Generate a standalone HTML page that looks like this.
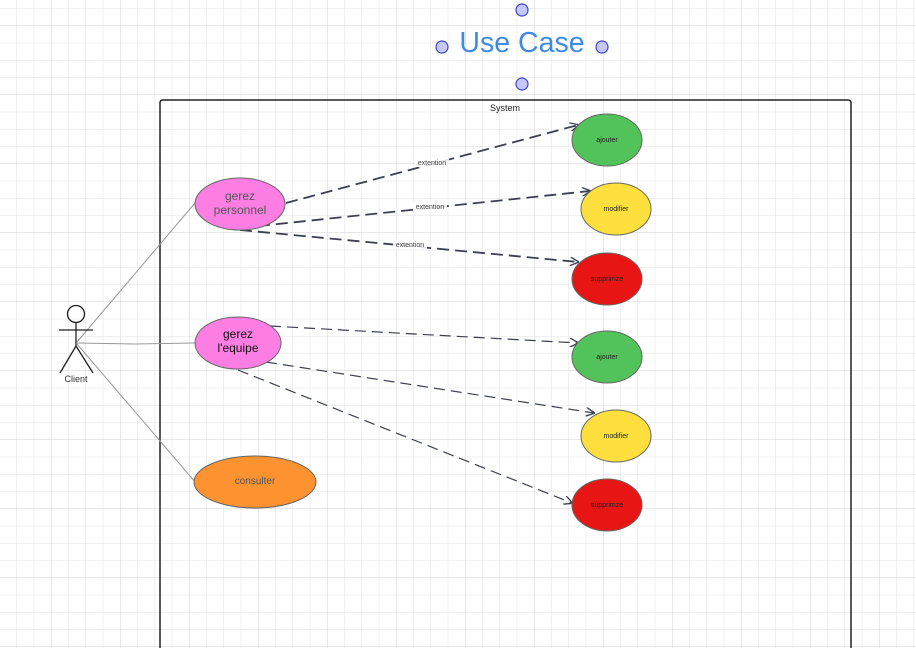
<!DOCTYPE html>
<html><head><meta charset="utf-8"><style>
html,body{margin:0;padding:0;background:#fff;width:916px;height:648px;overflow:hidden}
svg{display:block;font-family:"Liberation Sans",sans-serif}
</style></head><body>
<svg width="916" height="648" viewBox="0 0 916 648" xmlns="http://www.w3.org/2000/svg">
<defs>
<pattern id="minor" x="-0.25" y="-8.5" width="17.25" height="17.25" patternUnits="userSpaceOnUse">
<path d="M17.25 0V17.25M0 17.25H17.25" stroke="#e2e2e2" stroke-width="1" fill="none"/>
</pattern>
<pattern id="major" x="-17.5" y="-43" width="69" height="69" patternUnits="userSpaceOnUse">
<path d="M69 0V69M0 69H69" stroke="#d2d2d2" stroke-width="1" fill="none"/>
</pattern>
<marker id="ar" viewBox="0 0 10 10" refX="9" refY="5" markerWidth="9" markerHeight="9" orient="auto" markerUnits="userSpaceOnUse">
<path d="M0 0L10 5L0 10" fill="none" stroke="#3a4050" stroke-width="1.5"/>
</marker>
</defs>
<rect width="916" height="648" fill="url(#minor)"/>
<rect width="916" height="648" fill="url(#major)"/>

<text x="522" y="52" font-size="28.5" fill="#3d8be6" text-anchor="middle">Use Case</text>
<g fill="#c5c8f5" stroke="#3e46c9" stroke-width="1.2">
<circle cx="522" cy="10" r="6"/><circle cx="522" cy="84" r="6"/>
<circle cx="442" cy="47" r="6"/><circle cx="602" cy="47" r="6"/>
</g>

<path d="M160 648V103Q160 100 163 100H848Q851 100 851 103V648" fill="none" stroke="#222" stroke-width="1.5"/>
<text x="505" y="111" font-size="9" fill="#222" text-anchor="middle">System</text>

<g stroke="#999" stroke-width="1" fill="none">
<line x1="77" y1="342" x2="195" y2="203"/>
<path d="M77 343L135 344L195 343"/>
<line x1="77" y1="344" x2="196" y2="483"/>
</g>
<g stroke="#222" stroke-width="1.3" fill="none">
<circle cx="76" cy="314" r="8.5"/>
<line x1="76" y1="323" x2="76" y2="346"/>
<line x1="59" y1="330" x2="93" y2="330"/>
<line x1="76" y1="346" x2="60" y2="373"/>
<line x1="76" y1="346" x2="93" y2="373"/>
</g>
<text x="76" y="382" font-size="9" fill="#333" text-anchor="middle">Client</text>

<g stroke="#3a4050" stroke-width="1.8" stroke-dasharray="12,6" fill="none" marker-end="url(#ar)">
<line x1="286" y1="203" x2="578" y2="125"/>
<line x1="240" y1="228" x2="590" y2="191"/>
<line x1="240" y1="230" x2="578" y2="262"/>
</g>
<g stroke="#3a4050" stroke-width="1.2" stroke-dasharray="11,6" fill="none" marker-end="url(#ar)">
<line x1="270" y1="326" x2="578" y2="343"/>
<line x1="266" y1="362" x2="594" y2="413"/>
<line x1="238" y1="370" x2="572" y2="503"/>
</g>
<g font-size="7" fill="#444" text-anchor="middle">
<rect x="415" y="158" width="34" height="9" fill="#fff" opacity="0.85"/>
<text x="432" y="165">extention</text>
<rect x="413" y="202" width="34" height="9" fill="#fff" opacity="0.85"/>
<text x="430" y="209">extention</text>
<rect x="393" y="240" width="34" height="9" fill="#fff" opacity="0.85"/>
<text x="410" y="247">extention</text>
</g>

<g stroke="#666" stroke-width="1">
<ellipse cx="240" cy="204" rx="45" ry="26" fill="#fd7ee2"/>
<ellipse cx="238" cy="343" rx="43" ry="26" fill="#fd7ee2"/>
<ellipse cx="255" cy="482" rx="61" ry="26" fill="#fc9330"/>
<ellipse cx="607" cy="140" rx="35" ry="26" fill="#52c35a"/>
<ellipse cx="616" cy="209" rx="35" ry="26" fill="#fde03d"/>
<ellipse cx="607" cy="279" rx="35" ry="26" fill="#e81515"/>
<ellipse cx="607" cy="357" rx="35" ry="26" fill="#52c35a"/>
<ellipse cx="616" cy="436" rx="35" ry="26" fill="#fde03d"/>
<ellipse cx="607" cy="505" rx="35" ry="26" fill="#e81515"/>
</g>
<g text-anchor="middle">
<text x="240" y="200" font-size="12" fill="#555">gerez</text>
<text x="240" y="214" font-size="12" fill="#555">personnel</text>
<text x="238" y="338" font-size="12" fill="#111">gerez</text>
<text x="238" y="352" font-size="12" fill="#111">l'equipe</text>
<text x="255" y="484" font-size="10" fill="#555">consulter</text>
<g font-size="7" fill="#222">
<text x="607" y="142">ajouter</text>
<text x="616" y="211">modifier</text>
<text x="607" y="281">supprimze</text>
<text x="607" y="359">ajouter</text>
<text x="616" y="438">modifier</text>
<text x="607" y="507">supprimze</text>
</g>
</g>
</svg>
</body></html>
